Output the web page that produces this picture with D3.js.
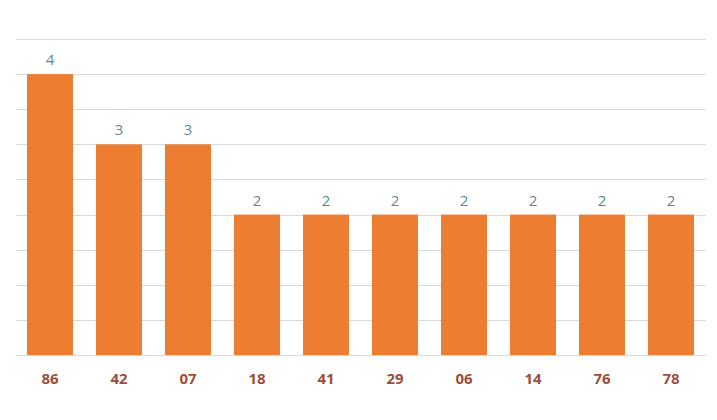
<!DOCTYPE html>
<html><head><meta charset="utf-8">
<script src="https://cdn.jsdelivr.net/npm/d3@7"></script>
<style>body{margin:0;background:#fff}svg{display:block}</style>
</head><body>
<script>
const categories = ["86","42","07","18","41","29","06","14","76","78"];
const values = [4,3,3,2,2,2,2,2,2,2];
const gridTicks = [0,0.5,1,1.5,2,2.5,3,3.5,4,4.5];

const W = 717, H = 420;
const svg = d3.select("body").append("svg").attr("width", W).attr("height", H);
const x = d3.scaleBand().domain(categories).range([15.5, 705.5]).paddingInner(0.333).paddingOuter(0.1665);
const y = d3.scaleLinear().domain([0, 4.5]).range([355, 39]);

svg.append("g").selectAll("line").data(gridTicks).join("line")
  .attr("x1", 16).attr("x2", 706)
  .attr("y1", d => Math.round(y(d)) + 0.5).attr("y2", d => Math.round(y(d)) + 0.5)
  .attr("stroke", "#d9d9d9").attr("stroke-width", 1);

svg.append("g").selectAll("rect").data(values).join("rect")
  .attr("x", (d, i) => x(categories[i]))
  .attr("width", x.bandwidth())
  .attr("y", d => y(d))
  .attr("height", d => y(0) - y(d))
  .attr("fill", "#ED7D31");

svg.append("g").selectAll("text").data(values).join("text")
  .attr("x", (d, i) => x(categories[i]) + x.bandwidth() / 2)
  .attr("y", d => y(d) - 9)
  .attr("text-anchor", "middle")
  .attr("font-family", "Open Sans, sans-serif")
  .attr("font-size", 15)
  .attr("fill", "#598a92")
  .text(d => d);

svg.append("g").selectAll("text").data(categories).join("text")
  .attr("x", d => x(d) + x.bandwidth() / 2)
  .attr("y", 384)
  .attr("text-anchor", "middle")
  .attr("font-family", "Open Sans, sans-serif")
  .attr("font-weight", "bold")
  .attr("font-size", 15)
  .attr("fill", "#9c4f3c")
  .text(d => d);
</script>
</body></html>
